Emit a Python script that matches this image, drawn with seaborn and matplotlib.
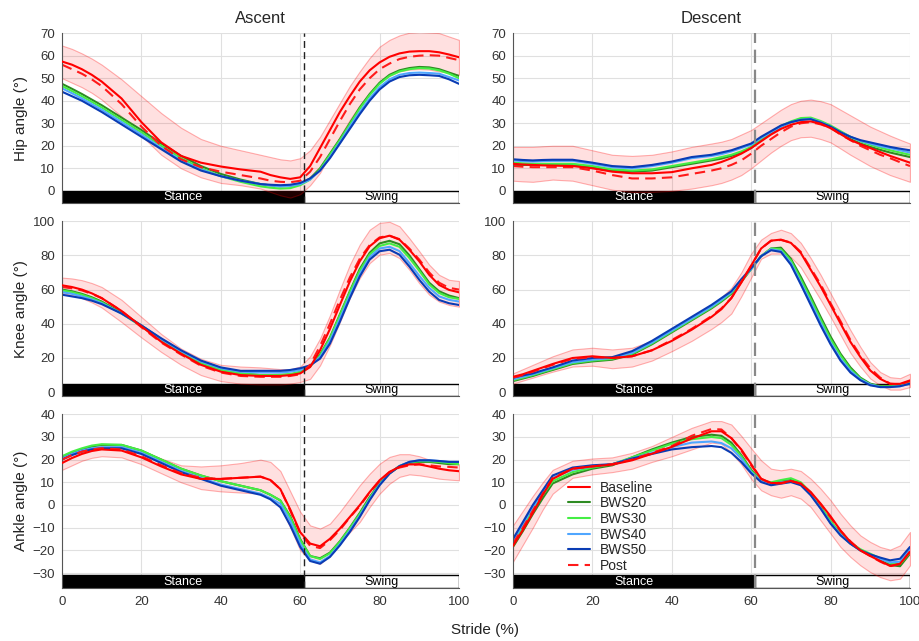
import numpy as np
import seaborn as sns
import matplotlib.pyplot as plt
import matplotlib.transforms as mtransforms
from matplotlib.patches import Rectangle

sns.set_style('white')
plt.rcParams['font.family'] = ['Liberation Sans', 'DejaVu Sans']

stride = [0, 2.5, 5, 7.5, 10, 15, 20, 25, 30, 35, 40, 45, 50, 52.5, 55, 57.5, 60,
          62.5, 65, 67.5, 70, 72.5, 75, 77.5, 80, 82.5, 85, 87.5, 90, 92.5, 95, 97.5, 100]
toe_off = 61

groups = ['Baseline', 'BWS20', 'BWS30', 'BWS40', 'BWS50', 'Post']
colours = ['#ff0000', '#2e8b22', '#44ee44', '#4fa6ff', '#0a3cb4', '#ff1a1a']

# hip, ascent
hip_asc_base = [57.4, 56, 54, 51.5, 48.5, 41, 30.5, 21.5, 15.5, 12.5, 10.8, 9.5, 8.5, 7, 6, 5.3, 6, 11, 19, 27, 35, 42, 48.5, 53.5, 57, 59.5, 61, 61.8, 62, 62, 61.5, 60.5, 59.3]
hip_asc_bws20 = [47.5, 45.3, 43, 40.5, 38, 32.5, 27, 21, 15.5, 11, 7.5, 5, 3, 2.4, 2, 2.2, 3, 5.5, 10, 16.5, 23, 30, 37, 43, 48, 51.5, 53.5, 54.5, 55, 54.8, 54, 52.5, 51]
hip_asc_bws30 = [46.5, 44.3, 42, 39.5, 37, 31.5, 26, 20, 14.5, 10, 6.5, 4, 2, 1.4, 1, 1.2, 2.5, 5, 9.5, 16, 22.5, 29.5, 36.5, 42.5, 47.5, 51, 53, 54, 54.5, 54.3, 53.5, 52, 50]
hip_asc_bws40 = [45.5, 43.3, 41, 38.5, 36, 30.5, 25, 19, 13.5, 9.5, 6.5, 4.5, 3, 2.4, 2, 2.2, 3, 5, 9, 15, 21.5, 28.5, 35, 41, 46, 49.5, 51.5, 52.3, 52.5, 52.3, 52, 50.5, 49]
hip_asc_bws50 = [44, 42, 40, 37.5, 35, 29.5, 24, 18.5, 13, 9, 6.5, 4.5, 3, 2.7, 2.5, 2.7, 3.5, 5.5, 9, 14.5, 21, 27.5, 34, 40, 45, 48.5, 50.5, 51.3, 51.5, 51.3, 51, 49.5, 47.5]
hip_asc_post = [56, 54, 52, 49.5, 46.5, 38.5, 28.5, 20, 14, 10.5, 8.5, 7, 5.5, 4.5, 4, 3.8, 4.5, 8.5, 15, 23, 31, 38.5, 45, 50, 54, 56.5, 58.5, 59.5, 60, 60.2, 60, 59, 58]
hip_asc_hi = [64.5, 63, 61, 58.7, 56, 49.5, 42, 34.5, 28, 23, 20, 18, 16, 15, 14, 13.5, 14.5, 18, 24, 31.5, 39, 46.5, 53, 59, 64, 67, 69, 70.2, 70.5, 70.3, 70, 68.5, 67]
hip_asc_lo = [50, 48, 46, 43.5, 40.5, 33, 24.5, 16, 10, 6, 3.5, 2.5, 1, -0.5, -2, -3, -1.5, 2.5, 8, 16, 24, 31.5, 38, 43.5, 48, 51, 53, 53.8, 54, 53.8, 53, 52.5, 51.5]

# hip, descent
hip_desc_base = [12, 11.7, 11.5, 11.3, 11.2, 11, 10, 8.5, 7.8, 7.8, 8.3, 10, 11.5, 12.8, 14.5, 16.5, 19, 22, 25, 27.5, 29.3, 30.5, 30.8, 29.8, 27.8, 25.2, 22.6, 20.7, 19, 17.2, 15.5, 14, 12.5]
hip_desc_bws20 = [11.5, 11.5, 11.5, 11.5, 11.5, 11.5, 10.5, 9, 8.5, 9, 10.5, 12, 13.5, 14.3, 15.5, 17, 19, 22.5, 25.5, 28.5, 30.5, 31.8, 32, 30.5, 28.5, 25.5, 23, 21, 19.5, 18.2, 17, 16, 15]
hip_desc_bws30 = [12.5, 12.2, 12, 12, 12, 12, 11, 9.5, 9, 9.5, 11, 12.5, 14, 15, 16, 17.5, 19.5, 23, 26, 28.8, 30.8, 32.3, 32.5, 31, 29, 26.5, 24, 22, 20.5, 19.2, 18, 17, 16]
hip_desc_bws40 = [13.5, 13.2, 13, 13.2, 13.3, 13.3, 12, 10.5, 10, 11, 12.5, 14.5, 15.5, 16.3, 17.5, 19, 20.5, 23.5, 26, 28.5, 30.5, 31.5, 32, 30.5, 28.5, 26, 24, 22.2, 21, 19.8, 19, 18, 17]
hip_desc_bws50 = [14, 13.7, 13.5, 13.7, 13.8, 13.8, 12.5, 11, 10.5, 11.5, 13, 15, 16, 17, 18, 19.5, 21, 24, 26.5, 29, 30.5, 31.5, 31.8, 30.3, 28.5, 26, 24, 22.5, 21.5, 20.5, 19.5, 18.7, 18]
hip_desc_post = [11, 10.7, 10.5, 10.5, 10.5, 10.5, 9, 7, 5.5, 5.5, 6, 7.5, 9, 10, 11.5, 13.5, 16.5, 20, 23, 26, 28.5, 30, 30.5, 29.5, 28, 25, 22.5, 20, 18, 16, 14.5, 12.7, 11]
hip_desc_hi = [19.5, 19.5, 19.5, 19.8, 20, 20, 18, 16, 15.5, 16, 17.5, 19.5, 21, 21.8, 23, 25, 27, 30, 33, 36, 38.5, 40, 40.5, 39.8, 38.5, 36, 33.5, 31, 28.5, 26.5, 24.5, 22.7, 21]
hip_desc_lo = [4.5, 4.2, 4, 4.5, 5, 4.5, 2.5, 0.5, -0.5, -0.5, 0, 1, 2.5, 3.5, 5, 7, 10, 13.5, 17, 20, 22.5, 23.8, 24, 23, 21.5, 18.8, 16, 13.5, 11, 9, 7, 5.5, 4]

# knee, ascent
knee_asc_base = [62.5, 61.5, 60, 57.8, 55, 47.5, 38.5, 29.5, 22.5, 16, 12, 10, 9.5, 9.5, 9.5, 10, 11, 14.7, 24.5, 37, 51, 64.7, 76.5, 85.3, 90, 91.5, 89.2, 83.3, 76.5, 68.6, 62.7, 59.8, 58.4]
knee_asc_bws20 = [60, 59, 57.5, 55.5, 53, 46.5, 39, 31, 23.5, 17, 13, 11, 10, 10, 10, 10.3, 11.5, 15, 22, 32, 45.5, 59, 72, 81.5, 87, 88.5, 86.5, 80, 72, 64, 59, 56.5, 55]
knee_asc_bws30 = [59.5, 58.5, 57, 55, 52.5, 46, 38.5, 30.5, 23.5, 17, 13, 11, 10, 10, 10.2, 10.6, 12, 15.3, 21.5, 31.5, 45, 58.5, 71, 80.5, 85.5, 87, 85, 78.5, 71, 63, 58, 55.5, 54.5]
knee_asc_bws40 = [58.5, 57.5, 56, 54.2, 52, 46, 39, 31, 24, 18, 14, 12, 11.5, 11.5, 11.5, 12, 13, 15.5, 20.5, 30, 43, 56.5, 69, 79, 84, 85, 82.5, 75.5, 68, 61, 56, 54, 53]
knee_asc_bws50 = [57, 56, 55, 53.5, 51.5, 46, 39, 31.5, 24.5, 18.5, 14.5, 12.5, 12.5, 12.5, 12.5, 13, 14, 15.7, 19.6, 28.4, 41.2, 54.9, 67.6, 77.5, 82.4, 83.3, 80.4, 73.5, 65.7, 58.8, 53.9, 52, 51]
knee_asc_post = [61.5, 60.7, 59.5, 57.5, 55, 47.5, 38, 29, 22, 15.5, 11.5, 9.5, 9, 9, 9, 9.5, 10.5, 16, 27, 40, 54, 67, 78, 86, 90.5, 91.5, 89.5, 84, 77.5, 70, 64, 61, 60]
knee_asc_hi = [67, 66.5, 65.5, 63.8, 61.5, 54, 44, 34, 25.5, 19.5, 16, 15, 14.5, 14, 13.5, 13.5, 15, 21, 31.4, 45, 60, 74.5, 86.3, 95, 99, 99.6, 97, 90, 82.4, 74.5, 68.6, 65.7, 65]
knee_asc_lo = [58, 56.7, 55, 52.5, 49.5, 41, 32, 23.5, 16, 10, 6.5, 5, 4.5, 4.5, 4.5, 5, 6, 7.8, 15.7, 27.5, 41, 55, 66.7, 75.5, 80.4, 81.4, 78.4, 71.6, 63.7, 57, 53, 51, 50]

# knee, descent
knee_desc_base = [9, 10.5, 12.5, 14.5, 16.5, 20, 21, 20, 21, 24.5, 30, 36.5, 44, 48.5, 55, 64, 74, 84, 88.6, 89.2, 87.3, 81.4, 71.6, 61.8, 51, 40.2, 29.4, 20.6, 12.7, 7.8, 4.9, 4.9, 6.9]
knee_desc_bws20 = [6.5, 8, 9.5, 11.3, 13, 16.5, 18, 19, 22, 28, 35, 42, 49, 53, 57.5, 64.5, 72, 79.5, 84, 84.5, 78, 67.5, 56, 44, 32.5, 22.5, 14.5, 8.5, 5, 3.5, 3.5, 4, 5.5]
knee_desc_bws30 = [7, 8.5, 10, 11.8, 13.5, 17, 18.5, 19.5, 22.5, 28.5, 35.5, 42.5, 49.5, 53.5, 58, 65, 72, 79.5, 84, 83.5, 77, 66, 54.5, 42.5, 31, 21.5, 13.5, 8, 4.5, 3.3, 3.3, 4, 5.5]
knee_desc_bws40 = [7.5, 9, 10.5, 12.3, 14, 17.5, 19, 20, 23, 29, 36, 43, 50, 54, 58.5, 65.5, 72, 79.5, 83.5, 82.5, 75.5, 64, 52.5, 40.5, 29, 19.5, 12.5, 7.5, 4.5, 3, 3, 3.5, 5]
knee_desc_bws50 = [8.5, 9.8, 11, 12.8, 14.5, 18.5, 20, 20.5, 24, 30, 37, 44, 51, 55, 59, 66, 72.5, 79.5, 83, 82, 74.5, 63, 51, 39, 28, 18.5, 11.5, 7, 4, 3, 3, 3.5, 5]
knee_desc_post = [8.5, 10, 12, 14, 16, 19.5, 20.5, 20, 21, 24.5, 30.5, 37, 44.5, 49, 55, 64.5, 74, 84, 88.5, 89, 87.5, 82, 72.5, 63, 52, 41.5, 30.5, 21.5, 14, 8.5, 5, 4.5, 6.5]
knee_desc_hi = [11, 13.5, 16, 18.5, 21, 25, 26, 25, 26, 30, 36, 43, 51, 55.5, 61, 70, 81, 89.2, 93.1, 95, 93, 87.3, 78.4, 68.6, 57.8, 47, 36.3, 26.5, 17.6, 11.8, 8.8, 8.2, 10.8]
knee_desc_lo = [5, 6.8, 8.5, 10.3, 12, 15, 15.5, 14, 15, 18.5, 24, 30, 37, 41, 46, 56, 67, 78, 81, 81, 79, 73, 63.5, 54, 44, 33.5, 23, 15, 8, 4, 1.5, 1.5, 3]

# ankle, ascent
ankle_asc_base = [18.5, 20.7, 22.5, 23.8, 24.5, 24, 21, 17, 13.5, 11.5, 11.5, 12, 12.5, 11, 7, -2, -12, -17, -18.2, -14.9, -10.4, -5.3, -0.1, 5.7, 10.9, 14.6, 16.8, 17.9, 17.9, 17, 16, 15.3, 14.9]
ankle_asc_bws20 = [21, 23, 24.5, 25.8, 26.5, 26.5, 24, 20, 16, 13, 10.5, 8.5, 6.5, 4.5, 2, -5, -15, -22.5, -23.5, -21, -16, -10, -3.5, 3.5, 9.5, 14, 17, 18.5, 19, 19, 18.5, 18, 18]
ankle_asc_bws30 = [21.5, 23.5, 25, 26.2, 26.8, 26.5, 24, 20, 16, 13, 10.5, 8.5, 6.5, 4.5, 2, -5.5, -15.5, -22.5, -23.8, -21.3, -16.3, -10.3, -4, 3, 9.3, 14, 17.2, 18.8, 19.3, 19.3, 19, 18.5, 18]
ankle_asc_bws40 = [20.5, 22.5, 24, 25, 25.5, 25.5, 23, 19, 15, 12, 9, 7, 5, 3, 0.5, -7, -17, -24, -25.3, -22.5, -17.3, -11.3, -4.8, 2.5, 9, 14, 17.2, 19, 19.7, 19.7, 19.4, 19, 19]
ankle_asc_bws50 = [20, 22, 23.5, 24.5, 25, 25, 22.5, 18.5, 14.5, 11.5, 8.5, 6.5, 4.5, 2.5, -1, -9, -18.5, -24.7, -25.9, -22.9, -17.8, -11.9, -5.3, 2.1, 8.7, 13.8, 17.1, 19, 19.7, 19.7, 19.4, 19, 19]
ankle_asc_post = [20, 22, 23.5, 24.5, 25, 24.5, 21.5, 17.5, 14, 12, 11.5, 12, 12.5, 11, 7, -2.5, -12.5, -18, -19, -15.5, -11, -5.5, -0.5, 5.5, 10.5, 14.5, 16.5, 17.5, 18, 17.5, 17, 16.8, 16.5]
ankle_asc_hi = [21.5, 23.5, 25, 26, 26.5, 26, 24, 20.5, 17.5, 17, 17.5, 18.5, 20, 19, 15, 6, -3, -9, -10.4, -8.2, -3, 2.8, 8.7, 13.8, 18.2, 21.2, 22.4, 22.4, 21.5, 20, 19, 18.3, 18]
ankle_asc_lo = [15.5, 17.5, 19.5, 20.8, 21.5, 21, 18, 14, 10, 7, 6, 5.5, 5, 3, -1, -10, -20, -24.4, -26, -22, -17, -12, -7.5, -0.9, 5, 9.4, 12.4, 13.5, 13.1, 12.4, 11.6, 11.2, 10.9]

# ankle, descent
ankle_desc_base = [-18, -11, -3.5, 4.5, 11.5, 16, 17, 17.8, 19.7, 22.6, 25.6, 29.3, 32.5, 32.5, 29.5, 24.5, 18, 11.6, 9.7, 9.7, 10.6, 9.4, 5.7, 0.6, -5, -11.2, -16.3, -20, -22.5, -24.7, -26.9, -25.9, -20.7]
ankle_desc_bws20 = [-18.5, -11.5, -4, 3, 9.5, 13.5, 16, 17.5, 21, 24.5, 27.5, 30, 31, 30.5, 27.5, 22, 15.5, 11, 9.5, 10.5, 11, 9.5, 5, -1, -7.5, -13, -17, -20, -22, -24.5, -26.5, -27, -21.5]
ankle_desc_bws30 = [-17, -9.5, -2, 4.5, 10.5, 14.5, 16.5, 18, 21, 24, 27, 29, 30, 29.5, 26.5, 21.5, 15, 11, 10, 11, 11.8, 10, 5.5, -0.5, -7, -12.5, -16.5, -19.5, -21.5, -23.5, -25.5, -26, -21]
ankle_desc_bws40 = [-16, -8.5, -1, 5.5, 12, 15.5, 17, 18, 20.5, 23, 25.5, 27.5, 28, 27.3, 25, 20.5, 14.5, 10.5, 9, 10, 10.5, 9, 4.5, -1.5, -8, -13, -17, -20, -22, -23.8, -25.3, -25, -19.5]
ankle_desc_bws50 = [-15, -7.5, 0, 6.5, 13, 16.5, 17.5, 18, 20.5, 22.5, 24.5, 25.5, 26, 25.5, 23, 19, 14, 10.1, 8.7, 9.4, 10.1, 8.7, 4.3, -1.6, -8.2, -13.4, -17.1, -20, -21.8, -23.2, -24.4, -23.7, -18.5]
ankle_desc_post = [-17, -10, -2.5, 5, 12, 16, 17, 18, 20, 23, 26, 30.5, 33.5, 33.3, 29.5, 24, 17.5, 11.5, 9.5, 9.5, 10.5, 9.5, 5.5, 0.3, -5.5, -11.5, -16, -20, -22.5, -25, -27, -26, -20.5]
ankle_desc_hi = [-9, -2.5, 4, 10, 15.5, 19.5, 20.5, 21, 23, 26, 30, 34, 37, 37, 35.5, 30.5, 25, 19.7, 16, 15.3, 16, 15, 11.6, 7.2, 2.1, -3.8, -9, -13.4, -16.3, -18.5, -19.7, -17.8, -11.9]
ankle_desc_lo = [-25, -17.5, -10, -2, 5, 12, 13.5, 14.5, 16, 19, 21.5, 24.5, 27.5, 27, 23, 18, 11.5, 6.5, 4.3, 3.2, 4.3, 2.8, -0.9, -6.8, -12.6, -18.5, -22.9, -26.6, -29.6, -31.8, -33.2, -32.5, -26.6]

panels = [
    [(hip_asc_base, hip_asc_bws20, hip_asc_bws30, hip_asc_bws40, hip_asc_bws50, hip_asc_post), hip_asc_hi, hip_asc_lo],
    [(hip_desc_base, hip_desc_bws20, hip_desc_bws30, hip_desc_bws40, hip_desc_bws50, hip_desc_post), hip_desc_hi, hip_desc_lo],
    [(knee_asc_base, knee_asc_bws20, knee_asc_bws30, knee_asc_bws40, knee_asc_bws50, knee_asc_post), knee_asc_hi, knee_asc_lo],
    [(knee_desc_base, knee_desc_bws20, knee_desc_bws30, knee_desc_bws40, knee_desc_bws50, knee_desc_post), knee_desc_hi, knee_desc_lo],
    [(ankle_asc_base, ankle_asc_bws20, ankle_asc_bws30, ankle_asc_bws40, ankle_asc_bws50, ankle_asc_post), ankle_asc_hi, ankle_asc_lo],
    [(ankle_desc_base, ankle_desc_bws20, ankle_desc_bws30, ankle_desc_bws40, ankle_desc_bws50, ankle_desc_post), ankle_desc_hi, ankle_desc_lo],
]

row_labels = ['Hip angle (°)', 'Knee angle (°)', 'Ankle angle (°)']
row_ylims = [(-5.4, 70), (-2.3, 100), (-36.6, 40)]
row_ticks = [np.arange(0, 71, 10), np.arange(0, 101, 20), np.arange(-30, 41, 10)]
row_bottoms = [0.6833, 0.382, 0.0827]
row_heights = [0.265, 0.273, 0.271]
col_lefts = [0.0674, 0.5576]
col_width = 0.4315

fig = plt.figure(figsize=(9.2, 6.41), dpi=100)

for i, (curves, hi, lo) in enumerate(panels):
    row, col = i // 2, i % 2
    ax = fig.add_axes([col_lefts[col], row_bottoms[row], col_width, row_heights[row]])

    # sd band around baseline
    ax.fill_between(stride, lo, hi, facecolor=(1, 0, 0, 0.12), edgecolor=(1, 0, 0, 0.3), lw=0.8, zorder=2)

    for g, vals, c in zip(groups, curves, colours):
        ls = (0, (5, 3)) if g == 'Post' else '-'
        sns.lineplot(x=stride, y=vals, ax=ax, color=c, lw=1.5, linestyle=ls,
                     label=g if i == 5 else None, zorder=3 if g == 'Baseline' else 2.5)

    # stance / swing bar
    trans = mtransforms.blended_transform_factory(ax.transData, ax.transAxes)
    ax.add_patch(Rectangle((0, 0), toe_off, 0.072, transform=trans, facecolor='black', edgecolor='black', lw=1, zorder=1.5))
    ax.add_patch(Rectangle((toe_off, 0), 100 - toe_off, 0.072, transform=trans, facecolor='white', edgecolor='black', lw=1, zorder=1.5))
    ax.text(toe_off / 2, 0.036, 'Stance', transform=trans, color='white', ha='center', va='center', fontsize=9, zorder=1.6)
    ax.text((toe_off + 100) / 2, 0.036, 'Swing', transform=trans, color='black', ha='center', va='center', fontsize=9, zorder=1.6)

    if col == 0:
        ax.axvline(toe_off, color='#222222', lw=1, ls=(0, (5, 3)), zorder=4)
    else:
        ax.axvline(toe_off, color='#888888', lw=1.6, ls=(0, (6, 3)), zorder=4)

    ax.set_xlim(0, 100)
    ax.set_ylim(*row_ylims[row])
    ax.set_yticks(row_ticks[row])
    ax.set_xticks([0, 20, 40, 60, 80, 100])
    ax.grid(True, color='#e0e0e0', lw=0.8, zorder=0)
    ax.set_axisbelow(True)
    for s in ['top', 'right']:
        ax.spines[s].set_visible(False)
    for s in ['left', 'bottom']:
        ax.spines[s].set_color('#555555')
        ax.spines[s].set_linewidth(0.8)
    ax.tick_params(axis='y', direction='out', length=3, width=0.8, color='#555555', labelsize=9.5, labelcolor='#333333', pad=2)
    ax.tick_params(axis='x', length=0, labelsize=9.5, labelcolor='#333333', pad=6)
    if row < 2:
        ax.set_xticklabels([])
    ax.set_xlabel('')
    if col == 0:
        ax.set_ylabel(row_labels[row], fontsize=11, color='#222222')
        ax.yaxis.set_label_coords(-0.085, 0.5)
    else:
        ax.set_ylabel('')
    if row == 0:
        ax.set_title(['Ascent', 'Descent'][col], fontsize=12, pad=7)
    if i == 5:
        ax.legend(loc='upper left', bbox_to_anchor=(0.124, 0.65), frameon=False, fontsize=10,
                  handlelength=1.6, handletextpad=0.7, labelspacing=0.12, borderaxespad=0)
    elif ax.get_legend() is not None:
        ax.get_legend().remove()

fig.text(0.527, 0.017, 'Stride (%)', ha='center', va='center', fontsize=11, color='#222222')

plt.savefig('out.png', dpi=100)
